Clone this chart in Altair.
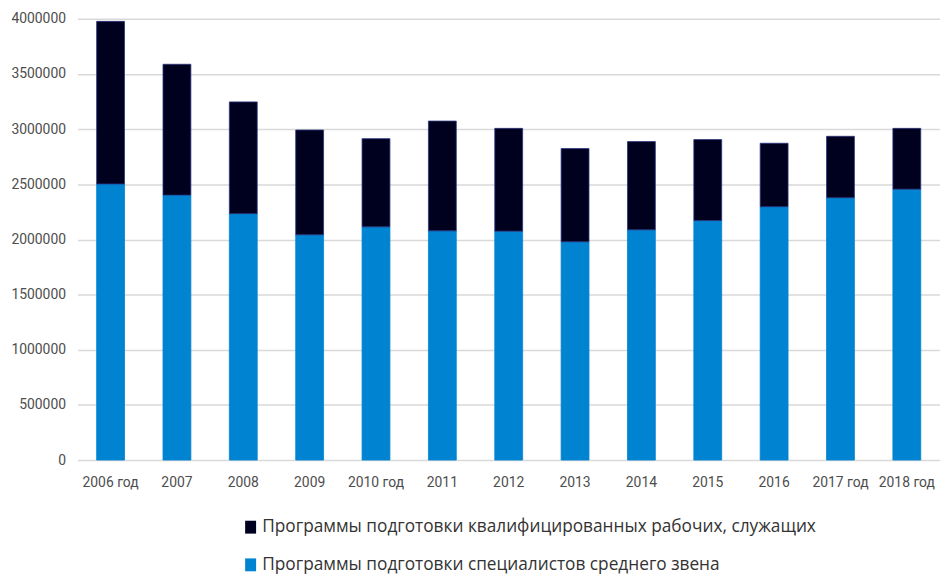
import altair as alt
import pandas as pd

years = ["2006 год", "2007", "2008", "2009", "2010 год", "2011", "2012",
         "2013", "2014", "2015", "2016", "2017 год", "2018 год"]
spo = [2503000, 2402000, 2234000, 2042000, 2114000, 2078000, 2075000,
       1979000, 2087000, 2171000, 2297000, 2378000, 2456000]
kvr = [1474000, 1186000, 1013000, 950000, 800000, 995000, 932000,
       845000, 800000, 734000, 575000, 557000, 551000]
y_ticks = [0, 500000, 1000000, 1500000, 2000000, 2500000, 3000000, 3500000, 4000000]

s_kvr = "Программы подготовки квалифицированных рабочих, служащих"
s_spo = "Программы подготовки специалистов среднего звена"

rows = []
for i, y in enumerate(years):
    rows.append({"year": y, "series": s_spo, "value": spo[i], "ord": 0})
    rows.append({"year": y, "series": s_kvr, "value": kvr[i], "ord": 1})
df = pd.DataFrame(rows)

axis_font = "Roboto"

chart = alt.Chart(df).mark_bar(strokeWidth=0.8).encode(
    x=alt.X("year:N", sort=years, title=None,
            scale=alt.Scale(paddingInner=0.58, paddingOuter=0.29),
            axis=alt.Axis(labelAngle=0, ticks=False, domain=False, grid=False,
                          labelPadding=16, labelFont=axis_font, labelFontSize=14,
                          labelColor="#4d4d4d")),
    y=alt.Y("value:Q", stack="zero", title=None,
            scale=alt.Scale(domain=[0, 4000000], nice=False),
            axis=alt.Axis(values=y_ticks, format="d", ticks=False, domain=False,
                          grid=True, gridColor="#d9d9d9", gridWidth=1.5,
                          labelPadding=12, labelFont=axis_font, labelFontSize=14,
                          labelColor="#4d4d4d")),
    color=alt.Color("series:N",
                    scale=alt.Scale(domain=[s_kvr, s_spo], range=["#00001f", "#0084d1"]),
                    legend=alt.Legend(title=None, orient="none", direction="vertical",
                                      legendX=166, legendY=504, padding=0,
                                      symbolType="M-0.85,-1L0.85,-1L0.85,1L-0.85,1Z",
                                      symbolSize=169, symbolStrokeWidth=0,
                                      labelOffset=3, rowPadding=19,
                                      labelFont="Open Sans", labelFontSize=17.4,
                                      labelColor="#333333", labelLimit=800)),
    stroke=alt.Stroke("series:N",
                      scale=alt.Scale(domain=[s_kvr, s_spo], range=["#2a3480", "#0084d1"]),
                      legend=None),
    order=alt.Order("ord:Q"),
).properties(
    width=870, height=445,
    autosize=alt.AutoSizeParams(type="none"),
    padding={"left": 70, "top": 8.5, "right": 0, "bottom": 112.5},
).configure_view(stroke=None)

chart.save("out.html", embed_options={"renderer": "svg", "actions": False})
